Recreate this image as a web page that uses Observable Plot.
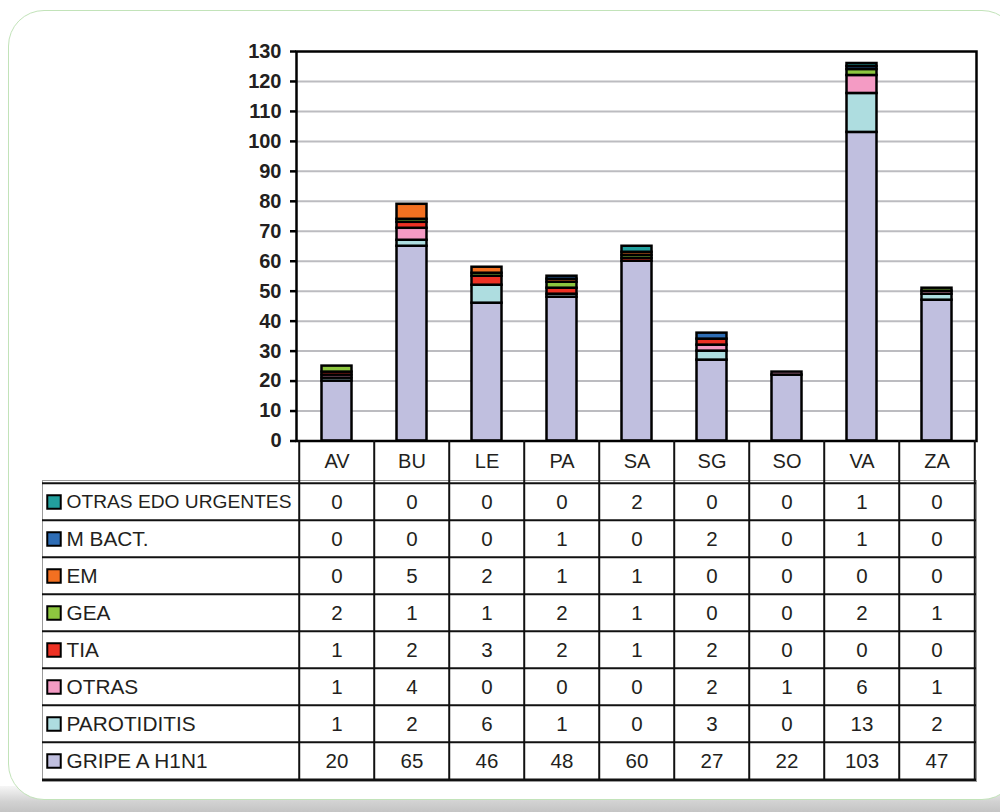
<!DOCTYPE html>
<html>
<head>
<meta charset="utf-8">
<script src="https://cdn.jsdelivr.net/npm/d3@7"></script>
<script src="https://cdn.jsdelivr.net/npm/@observablehq/plot@0.6"></script>
<style>
  html, body { margin: 0; padding: 0; background: #fff; }
  #wrap { position: relative; width: 1000px; height: 812px; overflow: hidden; background: #fff;
          font-family: "Liberation Sans", Arial, sans-serif; }
  #shade { position: absolute; left: 0; top: 786px; width: 1000px; height: 26px;
           background: linear-gradient(to bottom, #f6f6f6 0%, #d2d2d2 60%, #c4c4c4 100%); }
  #panel { position: absolute; left: 8px; top: 10px; width: 1010px; height: 790px;
           border: 1.5px solid #c2e3b9; border-radius: 36px; background: #fff; box-sizing: border-box; }
  .layer { position: absolute; left: 0; }
  .layer svg { overflow: visible; }
  .chart g[aria-label="y-axis tick label"] text { font-weight: bold; }
</style>
</head>
<body>
<div id="wrap">
  <div id="shade"></div>
  <div id="panel"></div>
  <div id="chart" class="layer chart" style="top:0"></div>
  <div id="table" class="layer" style="top:440px"></div>
</div>
<script>
// Provinces (columns)
const regions = ["AV", "BU", "LE", "PA", "SA", "SG", "SO", "VA", "ZA"];

// Series, listed bottom-to-top in the stacks
const seriesNames = ["GRIPE A H1N1", "PAROTIDITIS", "OTRAS", "TIA", "GEA", "EM", "M BACT.", "OTRAS EDO URGENTES"];
const seriesColors = ["#c0bfdf", "#aedde0", "#f49bc4", "#ee3124", "#8dc63f", "#f37021", "#2e6db5", "#22a09e"];

// Case counts per province
const gripe       = [20, 65, 46, 48, 60, 27, 22, 103, 47];
const parotiditis = [1, 2, 6, 1, 0, 3, 0, 13, 2];
const otras       = [1, 4, 0, 0, 0, 2, 1, 6, 1];
const tia         = [1, 2, 3, 2, 1, 2, 0, 0, 0];
const gea         = [2, 1, 1, 2, 1, 0, 0, 2, 1];
const em          = [0, 5, 2, 1, 1, 0, 0, 0, 0];
const mBact       = [0, 0, 0, 1, 0, 2, 0, 1, 0];
const otrasEdo    = [0, 0, 0, 0, 2, 0, 0, 1, 0];

const yTicks = [0, 10, 20, 30, 40, 50, 60, 70, 80, 90, 100, 110, 120, 130];

// Long-form records for the stacked bars and the data table
const seriesValues = [gripe, parotiditis, otras, tia, gea, em, mBact, otrasEdo];
const records = [];
seriesNames.forEach((s, si) => {
  regions.forEach((r, ri) => records.push({series: s, region: r, value: seriesValues[si][ri]}));
});

const ink = "#231f20";
const font = "'Liberation Sans', Arial, sans-serif";
const xRange = [296, 976];
const colW = (xRange[1] - xRange[0]) / regions.length;
const color = {domain: seriesNames, range: seriesColors};

// Stacked bar chart
const chart = Plot.plot({
  width: 1000, height: 442,
  marginTop: 51, marginBottom: 1.5, marginLeft: 296, marginRight: 24,
  style: {fontFamily: font, color: ink, background: "transparent"},
  x: {domain: regions, range: xRange, padding: 0, axis: null},
  y: {domain: [0, 130], axis: null},
  color,
  marks: [
    Plot.ruleY(yTicks.filter(t => t > 0 && t < 130), {stroke: "#bcbcc0", strokeWidth: 2}),
    Plot.barY(records, {x: "region", y: "value", fill: "series", stroke: "#000", strokeWidth: 2.5,
                        insetLeft: 22.5, insetRight: 22.5}),
    Plot.frame({stroke: "#000", strokeWidth: 2.5}),
    Plot.axisY({ticks: yTicks, label: null, tickSize: 6, tickPadding: 9, fontSize: 20,
                stroke: "#000", strokeWidth: 2.5, fill: ink})
  ]
});
document.getElementById("chart").appendChild(chart);

// Data table under the chart, one row per series (top row = last series)
const rowOrder = [...seriesNames].reverse();
const yRange = [40, 341];
const rowH = (yRange[1] - yRange[0]) / rowOrder.length;

const table = Plot.plot({
  width: 1000, height: 343,
  marginTop: 0, marginBottom: 2, marginLeft: 42, marginRight: 24,
  style: {fontFamily: font, color: ink, background: "transparent"},
  x: {type: "band", domain: regions, range: xRange, padding: 0, axis: null},
  y: {type: "band", domain: rowOrder, range: yRange, padding: 0, axis: null},
  color,
  marks: [
    Plot.frame({stroke: "#9a9a9a", strokeWidth: 1, insetTop: 40}),
    Plot.ruleY(rowOrder, {y: d => d, dy: -rowH / 2, stroke: "#111", strokeWidth: 2}),
    Plot.ruleY(rowOrder.slice(-1), {y: d => d, dy: rowH / 2, stroke: "#111", strokeWidth: 2.5}),
    Plot.ruleX(regions, {x: d => d, dx: -colW / 2, stroke: "#111", strokeWidth: 2}),
    Plot.ruleX(regions.slice(-1), {x: d => d, dx: colW / 2, stroke: "#111", strokeWidth: 2}),
    Plot.text(regions, {x: d => d, frameAnchor: "top", dy: 21, text: d => d, fontSize: 20, fill: ink, lineAnchor: "middle"}),
    Plot.text(records, {x: "region", y: "series", text: d => String(d.value), fontSize: 20.5, fill: ink, lineAnchor: "middle"}),
    Plot.dot(rowOrder, {y: d => d, frameAnchor: "left", dx: 11.5, symbol: "square", r: 7.6,
                        fill: d => d, stroke: "#000", strokeWidth: 2}),
    Plot.text(rowOrder, {y: d => d, frameAnchor: "left", dx: 24, textAnchor: "start", text: d => d,
                         fontSize: d => (d.length > 14 ? 19.2 : 20.8), fill: ink, lineAnchor: "middle"})
  ]
});
document.getElementById("table").appendChild(table);
</script>
</body>
</html>
